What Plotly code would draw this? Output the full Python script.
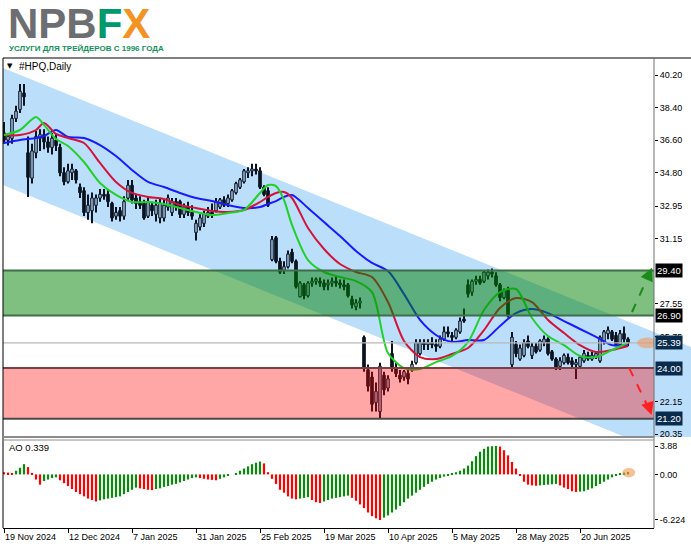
import plotly.graph_objects as go

# ---------------- data ----------------
tick_idx = [0, 16, 32, 48, 64, 80, 96, 112, 128, 144]
tick_labels = ["19 Nov 2024", "12 Dec 2024", "7 Jan 2025", "31 Jan 2025", "25 Feb 2025",
               "19 Mar 2025", "10 Apr 2025", "5 May 2025", "28 May 2025", "20 Jun 2025"]

opens = [37.0, 36.6, 36.7, 37.8, 38.3, 39.2, 35.9, 34.5, 35.9, 36.7,
         36.9, 36.5, 36.2, 36.6, 36.2, 34.8, 34.3, 34.8, 34.9, 34.0,
         33.8, 32.6, 32.7, 33.0, 33.4, 33.6, 33.6, 33.1, 32.4, 32.7,
         32.4, 33.4, 34.1, 33.4, 33.2, 33.1, 32.4, 33.0, 32.5, 32.3,
         32.3, 32.9, 32.6, 33.2, 33.2, 32.5, 32.9, 32.6, 31.5, 31.8,
         32.0, 32.4, 32.6, 32.7, 32.9, 33.3, 33.1, 33.3, 33.7, 34.0,
         34.3, 34.8, 34.9, 35.0, 34.9, 34.0, 33.8, 30.0, 31.2, 29.9,
         29.4, 29.6, 30.4, 29.9, 27.95, 28.6, 28.0, 28.7, 28.8, 28.8,
         28.7, 28.6, 28.7, 28.8, 28.7, 28.6, 28.6, 27.8, 27.4, 27.6,
         25.7, 23.9, 23.5, 22.1, 21.6, 23.6, 22.9, 24.8, 24.0, 23.6,
         23.5, 23.7, 23.9, 24.3, 24.8, 25.4, 25.3, 25.4, 25.3, 25.2,
         25.6, 26.0, 25.8, 25.7, 26.0, 26.7, 28.6, 28.2, 28.8, 28.9,
         28.8, 29.1, 29.3, 29.1, 28.6, 27.9, 28.3, 24.2, 25.3, 24.5,
         24.7, 25.5, 24.7, 25.2, 25.0, 25.4, 25.6, 24.9, 24.5, 24.1,
         24.3, 24.6, 24.4, 24.2, 24.1, 24.4, 24.7, 24.5, 24.6, 24.4,
         25.5, 25.9, 26.0, 25.8, 25.3, 25.9, 25.6]
highs = [37.6, 37.0, 38.0, 38.5, 39.7, 39.7, 36.8, 36.4, 37.1, 37.2,
         37.2, 36.8, 37.0, 37.0, 36.4, 35.1, 35.3, 35.3, 35.0, 34.2,
         34.0, 33.6, 33.7, 33.6, 33.9, 33.9, 33.9, 33.2, 32.9, 32.9,
         33.5, 34.4, 34.4, 33.6, 33.5, 33.3, 33.5, 33.2, 33.3, 33.4,
         33.3, 33.6, 33.4, 33.4, 33.3, 33.1, 33.2, 33.0, 32.2, 32.5,
         32.7, 32.9, 33.1, 33.4, 33.4, 33.5, 33.6, 33.9, 34.3, 34.5,
         35.0, 35.1, 35.3, 35.3, 35.1, 34.1, 34.0, 31.3, 31.3, 30.1,
         29.9, 30.5, 30.6, 30.0, 28.8, 28.7, 28.8, 29.0, 29.0, 29.0,
         28.9, 28.9, 29.0, 29.1, 28.9, 28.9, 28.7, 28.0, 27.8, 27.9,
         25.8, 24.2, 23.8, 23.2, 24.3, 23.8, 23.6, 25.5, 24.3, 23.9,
         23.9, 24.0, 24.4, 25.6, 25.6, 25.6, 25.6, 25.7, 25.6, 25.8,
         26.3, 26.3, 26.0, 26.2, 26.8, 27.3, 28.9, 28.9, 29.1, 29.1,
         29.4, 29.45, 29.5, 29.3, 28.7, 28.4, 28.5, 26.0, 25.5, 25.3,
         25.6, 25.8, 25.4, 25.4, 25.6, 25.8, 25.7, 25.0, 24.6, 24.6,
         24.8, 24.8, 24.6, 24.5, 24.7, 25.0, 24.9, 24.9, 24.9, 25.8,
         26.1, 26.3, 26.1, 26.0, 26.1, 26.3, 25.7]
lows = [36.4, 36.3, 36.4, 37.6, 38.1, 38.5, 33.45, 34.2, 35.6, 36.0,
        36.1, 35.9, 35.8, 36.0, 34.6, 34.1, 34.2, 34.4, 34.2, 33.4,
        32.4, 32.2, 32.0, 32.6, 33.2, 33.3, 32.9, 32.1, 32.2, 32.1,
        32.2, 33.3, 33.1, 32.8, 32.8, 32.2, 32.3, 32.4, 32.1, 32.0,
        32.1, 32.7, 32.4, 32.7, 32.3, 32.3, 32.4, 32.2, 31.05, 31.6,
        31.8, 32.3, 32.3, 32.6, 32.8, 32.9, 32.9, 33.2, 33.6, 33.9,
        34.2, 34.5, 34.6, 34.7, 33.9, 33.5, 32.9, 29.9, 29.8, 29.2,
        29.2, 29.5, 29.8, 28.4, 27.9, 27.8, 27.9, 28.5, 28.6, 28.5,
        28.3, 28.3, 28.5, 28.5, 28.4, 28.3, 27.9, 27.3, 27.2, 27.3,
        23.8, 22.7, 21.6, 21.6, 21.2, 22.5, 22.7, 23.8, 23.5, 23.2,
        23.3, 23.1, 23.8, 24.2, 24.7, 25.0, 25.0, 25.1, 24.9, 25.1,
        25.5, 25.7, 25.5, 25.6, 25.9, 26.5, 27.9, 28.0, 28.6, 28.6,
        28.7, 28.9, 29.0, 28.5, 27.7, 27.8, 26.8, 24.0, 24.6, 24.4,
        24.6, 25.1, 24.5, 24.8, 24.9, 25.2, 24.7, 24.4, 23.9, 23.9,
        24.2, 24.2, 24.0, 23.4, 24.0, 24.3, 24.4, 24.4, 24.5, 24.3,
        25.3, 25.6, 25.5, 25.2, 25.2, 25.4, 25.2]
closes = [36.6, 36.8, 37.8, 38.2, 39.3, 39.0, 34.55, 36.0, 36.8, 36.9,
          36.5, 36.2, 36.7, 36.3, 34.8, 34.3, 34.9, 35.0, 34.4, 33.7,
          32.6, 33.0, 33.4, 33.4, 33.6, 33.5, 33.2, 32.3, 32.6, 32.4,
          33.2, 34.1, 33.3, 33.1, 33.0, 32.3, 33.2, 32.7, 33.0, 33.1,
          33.0, 33.4, 33.2, 32.9, 32.5, 32.9, 32.6, 32.4, 32.0, 32.3,
          32.5, 32.6, 32.5, 33.2, 33.3, 33.0, 33.4, 33.8, 34.2, 34.4,
          34.9, 34.9, 35.0, 34.9, 34.0, 33.6, 33.0, 31.1, 29.9, 29.3,
          29.6, 30.3, 29.9, 28.5, 28.7, 28.0, 28.7, 28.8, 28.9, 28.7,
          28.5, 28.7, 28.8, 28.7, 28.6, 28.5, 28.0, 27.5, 27.6, 27.7,
          24.0, 23.0, 22.0, 22.7, 24.1, 22.8, 23.4, 24.0, 23.7, 23.4,
          23.8, 23.4, 24.2, 25.4, 25.4, 25.3, 25.4, 25.3, 25.2, 25.6,
          26.0, 25.9, 25.7, 26.1, 26.6, 26.6, 28.1, 28.8, 28.9, 28.7,
          29.3, 29.3, 29.2, 28.6, 27.9, 28.3, 26.9, 25.7, 24.8, 25.1,
          25.4, 25.2, 25.2, 24.9, 25.5, 25.6, 24.8, 24.5, 24.0, 24.4,
          24.7, 24.3, 24.2, 24.3, 24.6, 24.8, 24.5, 24.7, 24.8, 25.7,
          26.0, 26.1, 25.6, 25.3, 25.9, 25.6, 25.39]

ma_idx = [0, 4, 8, 10, 13, 16, 20, 24, 28, 32, 36, 40, 44, 48, 52, 56, 60, 64, 66, 68, 70, 72,
          76, 80, 84, 88, 92, 96, 100, 104, 108, 112, 116, 120, 124, 128, 132, 136, 140, 144,
          148, 152, 156]
ma_green = [36.88, 37.16, 37.88, 37.44, 36.66, 36.28, 35.39, 34.23, 33.57, 33.18, 33.18, 33.07,
            32.85, 32.63, 32.46, 32.57, 32.74, 33.68, 34.12, 34.06, 33.29, 31.91, 29.97, 29.31,
            29.03, 28.81, 28.20, 24.83, 24.00, 23.95, 24.33, 24.67, 25.44, 27.21, 28.20, 28.37,
            26.77, 25.77, 25.27, 24.67, 24.61, 25.00, 25.39]
ma_red = [36.88, 36.88, 37.16, 37.55, 36.94, 36.72, 36.44, 35.34, 34.29, 33.68, 33.46, 33.35,
          33.01, 32.85, 32.68, 32.63, 32.74, 33.18, 33.46, 33.68, 33.73, 33.40, 31.74, 30.58,
          29.75, 29.31, 29.03, 27.65, 25.50, 24.61, 24.50, 24.78, 25.11, 26.10, 27.32, 27.87,
          27.65, 26.66, 25.94, 25.27, 24.89, 25.00, 25.22]
ma_blue = [36.44, 36.61, 36.72, 36.83, 37.16, 36.77, 36.72, 36.33, 35.72, 34.95, 34.29, 34.01,
           33.68, 33.40, 33.23, 33.01, 32.85, 32.90, 33.07, 33.23, 33.46, 33.57, 32.85, 32.07,
           31.30, 30.47, 29.81, 29.36, 28.09, 26.66, 25.83, 25.44, 25.55, 25.55, 26.33, 27.04,
           27.26, 27.04, 26.60, 26.16, 25.72, 25.27, 25.27]

ao_values = [0.30, 0.25, 0.20, 0.50, 0.90, 1.40, 1.00, 0.20, -0.70, -1.40,
             -0.90, -0.70, -0.50, -0.40, -0.80, -1.20, -1.60, -2.00, -2.40, -2.70,
             -3.00, -3.30, -3.50, -3.70, -3.55, -3.40, -3.30, -3.20, -3.10, -3.00,
             -2.70, -2.40, -2.10, -1.80, -1.90, -2.00, -2.10, -2.15, -2.00, -1.90,
             -1.70, -1.60, -1.40, -1.30, -1.10, -0.90, -0.70, -0.50, -0.40, -0.50,
             -0.60, -0.70, -0.75, -0.80, -0.60, -0.40, -0.20, 0.00, 0.20, 0.50,
             0.80, 1.10, 1.40, 1.60, 1.75, 1.50, 0.30, -0.60, -1.30, -2.10,
             -2.50, -3.00, -3.30, -3.40, -3.30, -3.20, -3.10, -3.50, -3.80, -3.90,
             -3.70, -3.50, -3.30, -3.20, -3.10, -3.00, -2.90, -3.20, -3.60, -4.10,
             -4.60, -5.20, -5.70, -6.00, -6.224, -5.90, -5.60, -5.20, -4.80, -4.30,
             -3.80, -3.30, -2.90, -2.50, -2.10, -1.70, -1.30, -1.00, -0.70, -0.50,
             -0.30, -0.10, 0.10, 0.30, 0.50, 0.80, 1.20, 1.80, 2.50, 3.10,
             3.50, 3.80, 3.85, 3.88, 3.80, 3.30, 2.60, 1.70, 0.80, -0.20,
             -1.00, -1.40, -1.50, -1.55, -1.50, -1.45, -1.40, -1.35, -1.30, -1.50,
             -1.80, -2.00, -2.30, -2.40, -2.35, -2.30, -2.10, -1.90, -1.60, -1.30,
             -1.00, -0.70, -0.40, -0.10, 0.10, 0.25, 0.339]

price_ticks = [40.20, 38.40, 36.60, 34.80, 32.95, 31.15, 27.55, 25.75, 22.15, 20.35]
price_tick_labels = ["40.20", "38.40", "36.60", "34.80", "32.95", "31.15", "27.55", "25.75", "22.15", "20.35"]
ao_ticks = [3.88, 0.0, -6.224]
ao_tick_labels = ["3.88", "0.00", "-6.224"]

zone_up = [26.90, 29.40]
zone_down = [21.20, 24.00]
last_price = 25.39
level_labels = [29.40, 26.90, 25.39, 24.00, 21.20]
level_bg = ["#000000", "#000000", "#092b4d", "#092b4d", "#092b4d"]
ao_last = 0.339

target_up = [27.10, 29.55]
target_down = [24.00, 21.40]

# ---------------- geometry helpers (decorations only) ----------------
W, H = 691, 549
L_PX, R_PX, T_PX, B_PX = 3, 654, 58, 528


def px_x(px):
    return (px - L_PX) / (R_PX - L_PX)


def px_y(py):
    return (B_PX - py) / (B_PX - T_PX)


n = len(closes)
idx = list(range(n))
X_RANGE = [-0.25, 162.5]

# ---------------- traces ----------------
fig = go.Figure()

wick_h = [h - l for h, l in zip(highs, lows)]
fig.add_trace(go.Bar(x=idx, y=wick_h, base=lows, width=0.28,
                     marker=dict(color="#0a1420", line=dict(width=0)),
                     xaxis="x", yaxis="y", hoverinfo="skip"))

body_base = [min(o, c) for o, c in zip(opens, closes)]
body_h = [max(abs(c - o), 0.05) for o, c in zip(opens, closes)]
body_col = ["#7f9bbb" if c >= o else "#0a1420" for o, c in zip(opens, closes)]
fig.add_trace(go.Bar(x=idx, y=body_h, base=body_base, width=0.72,
                     marker=dict(color=body_col, line=dict(color="#0a1420", width=0.8)),
                     xaxis="x", yaxis="y", hoverinfo="skip"))

for vals, col in [(ma_blue, "#1a1aff"), (ma_red, "#d2143a"), (ma_green, "#22d02a")]:
    fig.add_trace(go.Scatter(x=ma_idx, y=vals, mode="lines",
                             line=dict(color=col, width=2, shape="spline", smoothing=0.8),
                             xaxis="x", yaxis="y", hoverinfo="skip"))

ao_col = ["#ff0000"] + ["#0a8a0a" if ao_values[i] >= ao_values[i - 1] else "#ff0000"
                         for i in range(1, len(ao_values))]
fig.add_trace(go.Bar(x=idx, y=ao_values, width=0.55,
                     marker=dict(color=ao_col, line=dict(width=0)),
                     xaxis="x2", yaxis="y2", hoverinfo="skip"))

# ---------------- shapes ----------------
shapes = []
shapes.append(dict(type="path", xref="paper", yref="paper", layer="below",
                   path=f"M {px_x(3)},{px_y(68)} L {px_x(691)},{px_y(347)} L {px_x(691)},{px_y(437)} "
                        f"L {px_x(625)},{px_y(437)} L {px_x(3)},{px_y(185)} Z",
                   fillcolor="#bbdefb", line=dict(width=0)))
shapes.append(dict(type="rect", xref="paper", yref="y", x0=0, x1=1, y0=zone_up[0], y1=zone_up[1],
                   fillcolor="rgba(0,128,0,0.5)", line=dict(width=0), layer="above"))
shapes.append(dict(type="rect", xref="paper", yref="y", x0=0, x1=1, y0=zone_down[0], y1=zone_down[1],
                   fillcolor="rgba(255,0,0,0.35)", line=dict(width=0), layer="above"))
for yv, col in [(zone_up[1], "#3f6f48"), (zone_up[0], "#3f6f48"),
                (zone_down[1], "#7a4048"), (zone_down[0], "#4a4a4a")]:
    shapes.append(dict(type="line", xref="paper", yref="y", x0=0, x1=1, y0=yv, y1=yv,
                       line=dict(color=col, width=2), layer="above"))
shapes.append(dict(type="line", xref="paper", yref="y", x0=0, x1=1, y0=last_price, y1=last_price,
                   line=dict(color="#b8b8b8", width=1.2), layer="above"))
shapes.append(dict(type="line", xref="x", yref="y", x0=157.0, y0=target_up[0], x1=161.3, y1=target_up[1] - 0.35,
                   line=dict(color="#1a8a1a", width=2, dash="dash"), layer="above"))
shapes.append(dict(type="line", xref="x", yref="y", x0=156.3, y0=target_down[0], x1=161.0, y1=target_down[1] + 0.45,
                   line=dict(color="#ff2020", width=2, dash="dash"), layer="above"))
shapes.append(dict(type="circle", xref="x", yref="y", x0=158.3, x1=163.3, y0=last_price - 0.30, y1=last_price + 0.30,
                   fillcolor="rgba(245,150,80,0.55)", line=dict(width=0), layer="above"))
shapes.append(dict(type="circle", xref="x2", yref="y2", x0=154.6, x1=157.8, y0=ao_last - 0.75, y1=ao_last + 0.55,
                   fillcolor="rgba(245,150,80,0.6)", line=dict(width=0), layer="above"))
shapes += [
    dict(type="line", xref="paper", yref="paper", x0=0, x1=0, y0=0, y1=1, line=dict(color="#000000", width=1)),
    dict(type="line", xref="paper", yref="paper", x0=0, x1=px_x(691), y0=1, y1=1, line=dict(color="#000000", width=1)),
    dict(type="line", xref="paper", yref="paper", x0=1, x1=1, y0=0, y1=1, line=dict(color="#707070", width=1)),
    dict(type="line", xref="paper", yref="paper", x0=0, x1=1, y0=px_y(437), y1=px_y(437), line=dict(color="#8c8c8c", width=2)),
    dict(type="line", xref="paper", yref="paper", x0=0, x1=1, y0=px_y(440), y1=px_y(440), line=dict(color="#8c8c8c", width=1)),
]

# ---------------- annotations ----------------
ann = []
for lv, bg in zip(level_labels, level_bg):
    ann.append(dict(xref="paper", yref="y", x=px_x(655), y=lv, xanchor="left", yanchor="middle",
                    text=f"{lv:.2f}", showarrow=False, bgcolor=bg, borderpad=1,
                    font=dict(family="Liberation Sans, Arial, sans-serif", size=9.5, color="#ffffff")))
ann.append(dict(xref="x", yref="y", axref="x", ayref="y", x=162.0, y=target_up[1], ax=161.0, ay=target_up[1] - 0.5,
                text="", showarrow=True, arrowhead=2, arrowsize=1.3, arrowwidth=2, arrowcolor="#1a8a1a"))
ann.append(dict(xref="x", yref="y", axref="x", ayref="y", x=161.9, y=target_down[1], ax=161.0, ay=target_down[1] + 0.6,
                text="", showarrow=True, arrowhead=2, arrowsize=1.3, arrowwidth=2, arrowcolor="#ff2020"))
ann.append(dict(xref="paper", yref="paper", x=px_x(5), y=px_y(66), xanchor="left", yanchor="middle",
                text="\u25BC", showarrow=False, font=dict(family="DejaVu Sans", size=7, color="#000000")))
ann.append(dict(xref="paper", yref="paper", x=px_x(17), y=px_y(66), xanchor="left", yanchor="middle",
                text="#HPQ,Daily", showarrow=False, font=dict(family="Liberation Sans, Arial, sans-serif", size=10, color="#000000")))
ann.append(dict(xref="paper", yref="paper", x=px_x(7), y=px_y(447), xanchor="left", yanchor="middle",
                text=f"AO {ao_last}", showarrow=False, font=dict(family="Liberation Sans, Arial, sans-serif", size=9.5, color="#000000")))
ann.append(dict(xref="paper", yref="paper", x=px_x(6), y=px_y(23), xanchor="left", yanchor="middle",
                height=34, valign="middle",
                text='<b><span style="color:#6d6e71">NPB</span><span style="color:#00996b">F</span>'
                     '<span style="color:#f39323">X</span></b>',
                showarrow=False, font=dict(family="Liberation Sans, Arial, sans-serif", size=42)))
ann.append(dict(xref="paper", yref="paper", x=px_x(7), y=px_y(48), xanchor="left", yanchor="middle",
                text="<b>УСЛУГИ ДЛЯ ТРЕЙДЕРОВ С 1996 ГОДА</b>", showarrow=False,
                font=dict(family="Liberation Sans Narrow, Arial Narrow, Liberation Sans, sans-serif", size=8, color="#11925a")))

axis_font = dict(family="Liberation Sans, Arial, sans-serif", size=9, color="#000000")
fig.update_layout(
    width=W, height=H,
    margin=dict(l=L_PX, r=W - R_PX, t=T_PX, b=H - B_PX, pad=0),
    paper_bgcolor="#ffffff", plot_bgcolor="rgba(0,0,0,0)",
    showlegend=False, barmode="overlay",
    xaxis=dict(domain=[0, 1], anchor="y", range=X_RANGE, showticklabels=False, ticks="",
               showgrid=False, zeroline=False, showline=False, fixedrange=True),
    xaxis2=dict(domain=[0, 1], anchor="y2", range=X_RANGE, tickmode="array", tickvals=tick_idx,
                ticktext=tick_labels, ticks="outside", ticklen=4, tickcolor="#000000",
                ticklabelposition="outside right", tickfont=axis_font,
                showgrid=False, zeroline=False, showline=True, linecolor="#000000", linewidth=1, fixedrange=True),
    yaxis=dict(domain=[px_y(437), 1], anchor="x", range=[20.19, 41.14], side="right",
               tickmode="array", tickvals=price_ticks, ticktext=price_tick_labels,
               ticks="outside", ticklen=3, tickcolor="#000000", tickfont=axis_font,
               showgrid=False, zeroline=False, showline=False, fixedrange=True),
    yaxis2=dict(domain=[0, px_y(440)], anchor="x2", range=[-7.32, 4.70], side="right",
                tickmode="array", tickvals=ao_ticks, ticktext=ao_tick_labels,
                ticks="outside", ticklen=3, tickcolor="#000000", tickfont=axis_font,
                showgrid=False, zeroline=False, showline=False, fixedrange=True),
    shapes=shapes, annotations=ann,
)

fig.write_html("out.html", config={"displayModeBar": False},
               post_script="document.body.style.margin='0px';document.body.style.padding='0px';")
